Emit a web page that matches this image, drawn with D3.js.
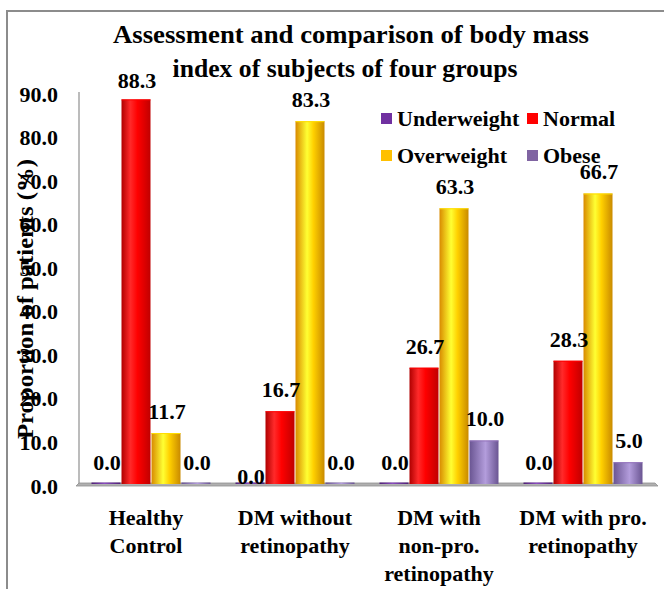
<!DOCTYPE html>
<html>
<head>
<meta charset="utf-8">
<script src="https://cdn.jsdelivr.net/npm/d3@7"></script>
<style>
  html, body { margin: 0; padding: 0; background: #fff; }
  svg { display: block; }
  text { font-family: "Liberation Serif", "Times New Roman", serif; font-weight: bold; fill: #000; }
</style>
</head>
<body>
<script>
// ---- data ----
const categories = [["Healthy", "Control"], ["DM without", "retinopathy"], ["DM with", "non-pro.", "retinopathy"], ["DM with pro.", "retinopathy"]];
const categoryKeys = ["Healthy Control", "DM without retinopathy", "DM with non-pro. retinopathy", "DM with pro. retinopathy"];
const seriesNames = ["Underweight", "Normal", "Overweight", "Obese"];
const underweight = [0.0, 0.0, 0.0, 0.0];
const normal = [88.3, 16.7, 26.7, 28.3];
const overweight = [11.7, 83.3, 63.3, 66.7];
const obese = [0.0, 0.0, 10.0, 5.0];
const yTicks = [0, 10, 20, 30, 40, 50, 60, 70, 80, 90];
const titleLines = ["Assessment and comparison of body mass", "index of subjects of four groups"];
const yTitle = "Proportion of patients (%)";

const seriesValues = [underweight, normal, overweight, obese];

// ---- layout ----
const W = 664, H = 589;
const svg = d3.select("body").append("svg").attr("width", W).attr("height", H);

const colors = ["#7030A0", "#FF0000", "#FFC000", "#8064A2"];
const defs = svg.append("defs");
const grads = [
  [["0%", "#4e1f75"], ["45%", "#8a4cc0"], ["100%", "#4e1f75"]],
  [["0%", "#b00000"], ["30%", "#ff2a2a"], ["55%", "#ff0000"], ["100%", "#c00000"]],
  [["0%", "#d88a00"], ["40%", "#ffff33"], ["62%", "#ffd000"], ["100%", "#c98a00"]],
  [["0%", "#6a5592"], ["55%", "#b39ddc"], ["100%", "#6a5592"]]
];
grads.forEach((stops, i) => {
  const g = defs.append("linearGradient").attr("id", "g" + i).attr("x1", "0%").attr("x2", "100%").attr("y1", "0%").attr("y2", "0%");
  stops.forEach(s => g.append("stop").attr("offset", s[0]).attr("stop-color", s[1]));
});

// outer frame
svg.append("path").attr("d", `M7,${H} L7,11 L${W},11`).attr("fill", "none").attr("stroke", "#8c8c8c").attr("stroke-width", 2);

const x0 = d3.scaleBand().domain(categoryKeys).range([79, 655]).paddingInner(24 / 144).paddingOuter(12 / 144);
const x1 = d3.scaleBand().domain(seriesNames).range([0, x0.bandwidth()]).padding(0);
const y = d3.scaleLinear().domain([0, 90]).range([484, 92]);

// title
svg.append("g").selectAll("text").data(titleLines).join("text")
  .attr("x", (d, i) => i === 0 ? 351 : 345)
  .attr("y", (d, i) => i === 0 ? 43 : 77)
  .attr("text-anchor", "middle")
  .attr("font-size", 26)
  .attr("textLength", (d, i) => i === 0 ? 476 : 345)
  .attr("lengthAdjust", "spacingAndGlyphs")
  .text(d => d);

// y axis line
svg.append("line").attr("x1", 79).attr("x2", 79).attr("y1", y(90)).attr("y2", y(0) + 2).attr("stroke", "#a6a6a6").attr("stroke-width", 1.5);

// y tick labels via axis
const yAxis = d3.axisLeft(y).tickValues(yTicks).tickFormat(d3.format(".1f")).tickSize(0).tickPadding(0);
const yg = svg.append("g").attr("transform", "translate(58,2)").call(yAxis);
yg.select(".domain").remove();
yg.selectAll("text").attr("font-size", 22).attr("font-family", "Liberation Serif, serif").attr("font-weight", "bold").attr("fill", "#000");

// floor
svg.append("path")
  .attr("d", `M79,${y(0) - 1} L655,${y(0) - 1} L658,${y(0) + 2} L76,${y(0) + 2} Z`)
  .attr("fill", "#b0b0b0").attr("stroke", "#909090").attr("stroke-width", 0.8);

// bars
const groups = svg.append("g").selectAll("g").data(categoryKeys).join("g")
  .attr("transform", d => `translate(${x0(d)},0)`);

groups.each(function (cat, ci) {
  const g = d3.select(this);
  seriesNames.forEach((s, si) => {
    const v = seriesValues[si][ci];
    const top = y(v);
    const h = Math.max(y(0) - top, 1.5);
    g.append("rect")
      .attr("x", x1(s) + 0.5)
      .attr("y", y(0) - h)
      .attr("width", x1.bandwidth() - 1)
      .attr("height", h)
      .attr("fill", `url(#g${si})`);
    if (v > 0) {
      g.append("line")
        .attr("x1", x1(s) + 0.5).attr("x2", x1(s) + x1.bandwidth() - 0.5)
        .attr("y1", top + 0.5).attr("y2", top + 0.5)
        .attr("stroke", d3.color(colors[si]).brighter(0.4)).attr("stroke-width", 1);
    }
  });
});

// value labels
const labelNudge = { "DM without retinopathy|Underweight": 14 };
groups.each(function (cat, ci) {
  const g = d3.select(this);
  seriesNames.forEach((s, si) => {
    const v = seriesValues[si][ci];
    const nudge = labelNudge[cat + "|" + s] || 0;
    g.append("text")
      .attr("x", x1(s) + x1.bandwidth() / 2 + 1)
      .attr("y", Math.max(y(v) - 14, 88) + nudge)
      .attr("text-anchor", "middle")
      .attr("font-size", 22)
      .text(d3.format(".1f")(v));
  });
});

// category labels
const catG = svg.append("g").selectAll("text").data(categoryKeys).join("text")
  .attr("text-anchor", "middle")
  .attr("font-size", 22);
catG.each(function (d, i) {
  const t = d3.select(this);
  const cx = x0(d) + x0.bandwidth() / 2 - (i === 0 ? 5 : 0);
  categories[i].forEach((line, li) => {
    t.append("tspan").attr("x", cx).attr("y", 525 + li * 28).text(line);
  });
});

// y axis title
svg.append("text")
  .attr("transform", "translate(33,299) rotate(-90)")
  .attr("text-anchor", "middle")
  .attr("font-size", 24)
  .attr("textLength", 280)
  .attr("lengthAdjust", "spacingAndGlyphs")
  .text(yTitle);

// legend
const legendPos = [[381, 126], [527, 126], [381, 163], [527, 163]];
const lg = svg.append("g").selectAll("g").data(seriesNames).join("g")
  .attr("transform", (d, i) => `translate(${legendPos[i][0]},${legendPos[i][1]})`);
lg.append("rect").attr("x", 0).attr("y", -13).attr("width", 11).attr("height", 11).attr("fill", (d, i) => colors[i]);
lg.append("text").attr("x", 16).attr("y", 0).attr("font-size", 22).text(d => d);
</script>
</body>
</html>
